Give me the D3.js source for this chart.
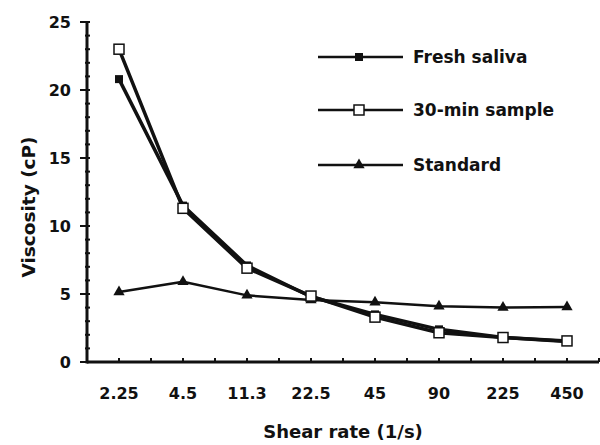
<!DOCTYPE html>
<html><head><meta charset="utf-8">
<script src="https://cdn.jsdelivr.net/npm/d3@7"></script>
<style>
body{margin:0;background:#fff;}
text{font-family:"DejaVu Sans",sans-serif;font-weight:bold;fill:#111;}
</style></head>
<body><svg id="chart" width="600" height="445"></svg>
<script>
const categories = ["2.25","4.5","11.3","22.5","45","90","225","450"];
const freshSaliva = [20.8, 11.5, 7.1, 4.8, 3.5, 2.4, 1.8, 1.5];
const sample30min = [23.0, 11.3, 6.9, 4.85, 3.3, 2.15, 1.8, 1.55];
const standard = [5.15, 5.9, 4.9, 4.55, 4.4, 4.1, 4.0, 4.05];
const seriesNames = ["Fresh saliva","30-min sample","Standard"];
const yTicks = [0,5,10,15,20,25];

const svg = d3.select("#chart");
const x = d3.scaleLinear().domain([-0.5, 7.5]).range([87, 599]);
const y = d3.scaleLinear().domain([0, 25]).range([362, 22]);

svg.append("line").attr("x1",x(-0.5)).attr("x2",x(-0.5)).attr("y1",y(0)+1.5).attr("y2",y(25))
  .attr("stroke","#111").attr("stroke-width",3);
svg.append("line").attr("x1",x(-0.5)).attr("x2",x(7.5)).attr("y1",y(0)).attr("y2",y(0))
  .attr("stroke","#111").attr("stroke-width",3);

d3.range(0,26,1).forEach(v=>{
  const major = v%5===0;
  svg.append("line").attr("x1",x(-0.5)-(major?7:2)).attr("x2",x(-0.5)+3)
    .attr("y1",y(v)).attr("y2",y(v)).attr("stroke","#111").attr("stroke-width",2);
});
yTicks.forEach(v=>{
  svg.append("text").attr("x",71).attr("y",y(v)).attr("dy","0.36em").attr("text-anchor","end")
    .style("font-size","16px").text(v);
});
d3.range(0,7.51,0.5).forEach(v=>{
  svg.append("line").attr("x1",x(v)).attr("x2",x(v)).attr("y1",y(0)).attr("y2",y(0)-4)
    .attr("stroke","#111").attr("stroke-width",2);
});
categories.forEach((c,i)=>{
  svg.append("text").attr("x",x(i)).attr("y",399).attr("text-anchor","middle")
    .style("font-size","16px").text(c);
});

svg.append("text").attr("x",343).attr("y",438).attr("text-anchor","middle")
  .style("font-size","18px").text("Shear rate (1/s)");
svg.append("text").attr("transform","translate(35,207) rotate(-90)").attr("text-anchor","middle")
  .style("font-size","18.5px").text("Viscosity (cP)");

const line = d3.line().x((d,i)=>x(i)).y(d=>y(d));
const series = [
  {name:seriesNames[0], data:freshSaliva, marker:"filled", w:3.5},
  {name:seriesNames[1], data:sample30min, marker:"open", w:3.5},
  {name:seriesNames[2], data:standard, marker:"tri", w:2.5}
];
function drawMarker(g, type, cx, cy){
  if(type==="filled"){
    g.append("rect").attr("x",cx-4).attr("y",cy-4).attr("width",8).attr("height",8).attr("fill","#111");
  } else if(type==="open"){
    g.append("rect").attr("x",cx-5).attr("y",cy-5).attr("width",10).attr("height",10)
      .attr("fill","#fff").attr("stroke","#111").attr("stroke-width",1.5);
  } else {
    g.append("path").attr("d",d3.symbol().type(d3.symbolTriangle).size(55)())
      .attr("transform",`translate(${cx},${cy})`).attr("fill","#111");
  }
}
const order = [2,0,1];
order.forEach(k=>{
  const s = series[k];
  svg.append("path").attr("d",line(s.data)).attr("fill","none").attr("stroke","#111")
    .attr("stroke-width",s.w).attr("stroke-linejoin","round");
});
order.forEach(k=>{
  const s = series[k];
  const g = svg.append("g");
  s.data.forEach((d,i)=>drawMarker(g,s.marker,x(i),y(d)));
});

const legY = [57,110,165];
series.forEach((s,i)=>{
  svg.append("line").attr("x1",318).attr("x2",403).attr("y1",legY[i]).attr("y2",legY[i])
    .attr("stroke","#111").attr("stroke-width",2.5);
  drawMarker(svg, s.marker, 359, legY[i]);
  svg.append("text").attr("x",413).attr("y",legY[i]).attr("dy","0.36em")
    .style("font-size","17px").text(s.name);
});
</script></body></html>
